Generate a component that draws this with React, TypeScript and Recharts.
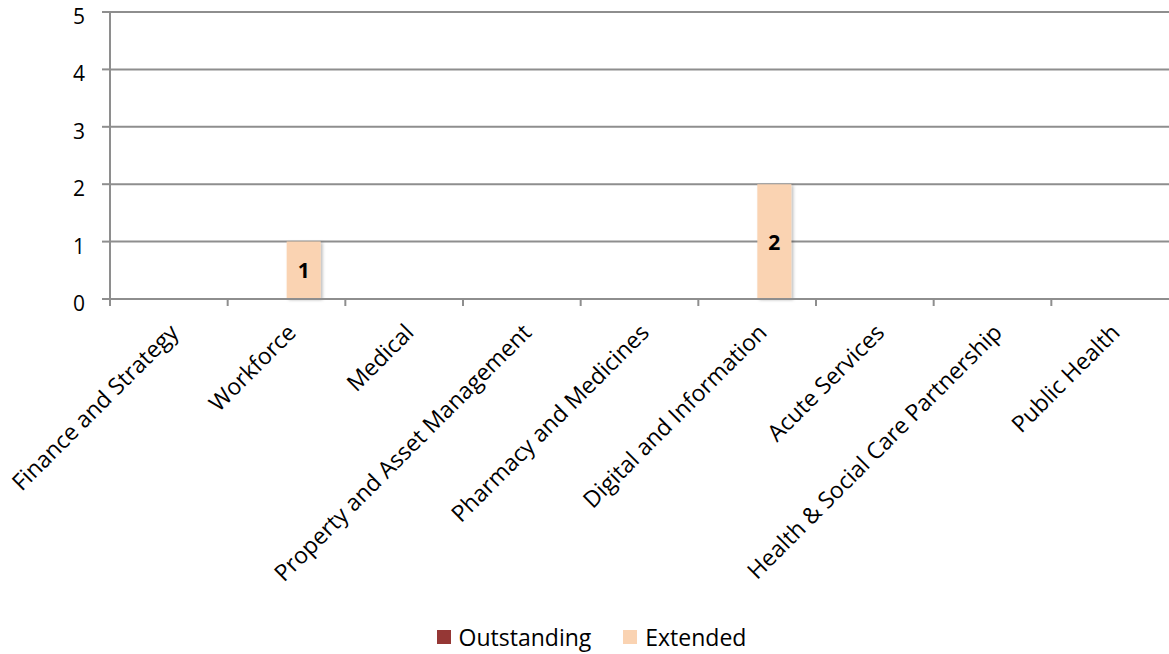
import React from 'react';
import { BarChart, Bar, XAxis, YAxis, CartesianGrid, Legend, LabelList } from 'recharts';

const categories = [
  'Finance and Strategy',
  'Workforce',
  'Medical',
  'Property and Asset Management',
  'Pharmacy and Medicines',
  'Digital and Information',
  'Acute Services',
  'Health & Social Care Partnership',
  'Public Health',
];
const outstanding = [0, 0, 0, 0, 0, 0, 0, 0, 0];
const extended = [0, 1, 0, 0, 0, 2, 0, 0, 0];
const yTicks = [0, 1, 2, 3, 4, 5];
const seriesNames = ['Outstanding', 'Extended'];
const seriesColors = ['#953735', '#fad3b2'];

const W = 1169;
const H = 654;
const LEFT = 110;
const STEP = (W - LEFT) / categories.length;
const FONT = '"Open Sans", sans-serif';
const GRID = '#8e8e8e';

const data = categories.map((name, i) => ({
  name,
  outstanding: outstanding[i],
  extended: extended[i],
}));

const CategoryTick: React.FC<any> = ({ x, y, payload }) => (
  <g>
    <line x1={x - STEP / 2} y1={y} x2={x - STEP / 2} y2={y + 7} stroke={GRID} strokeWidth={2} />
    <text
      x={x + 11}
      y={y + 35}
      textAnchor="end"
      transform={`rotate(-45, ${x + 11}, ${y + 35})`}
      fontSize={23}
      fontFamily={FONT}
      fill="#000"
    >
      {payload.value}
    </text>
  </g>
);

const ValueTick: React.FC<any> = ({ x, y, payload }) => (
  <text x={x} y={y + 12} textAnchor="end" fontSize={21} fontFamily={FONT} fill="#000">
    {payload.value}
  </text>
);

const ValueLabel: React.FC<any> = ({ x, y, width, height, value }) => {
  if (!value) return null;
  return (
    <text
      x={x + width / 2}
      y={y + height / 2 + 8}
      textAnchor="middle"
      fontSize={21}
      fontWeight="bold"
      fontFamily={FONT}
      fill="#000"
    >
      {value}
    </text>
  );
};

const LegendContent: React.FC<any> = () => (
  <div
    style={{
      display: 'flex',
      justifyContent: 'center',
      alignItems: 'center',
      height: 30,
      paddingLeft: 14,
      fontFamily: FONT,
      fontSize: 23,
      color: '#000',
    }}
  >
    {seriesNames.map((n, i) => (
      <div key={n} style={{ display: 'flex', alignItems: 'center', marginRight: i === 0 ? 32 : 0 }}>
        <span style={{ display: 'inline-block', width: 14, height: 14, background: seriesColors[i], marginRight: 8 }} />
        <span>{n}</span>
      </div>
    ))}
  </div>
);

export default function App() {
  return (
    <div style={{ position: 'absolute', left: 0, top: 0, width: W, height: H, background: '#fff' }}>
      <BarChart
        width={W}
        height={H}
        data={data}
        margin={{ top: 12, right: 0, left: 0, bottom: 2 }}
        barGap={0}
      >
        <defs>
          <filter id="barShadow" x="-20%" y="-20%" width="150%" height="140%">
            <feDropShadow dx="2" dy="1" stdDeviation="1.5" floodColor="#000" floodOpacity="0.25" />
          </filter>
        </defs>
        <CartesianGrid vertical={false} stroke={GRID} strokeWidth={2} />
        <XAxis
          dataKey="name"
          interval={0}
          height={323}
          axisLine={{ stroke: GRID, strokeWidth: 2 }}
          tickLine={false}
          tickSize={0}
          tickMargin={0}
          tick={<CategoryTick />}
        />
        <YAxis
          width={LEFT}
          domain={[0, 5]}
          ticks={yTicks}
          interval={0}
          axisLine={{ stroke: GRID, strokeWidth: 2 }}
          tickLine={{ stroke: GRID, strokeWidth: 2 }}
          tickSize={8}
          tickMargin={17}
          tick={<ValueTick />}
        />
        <Legend verticalAlign="bottom" align="center" height={30} content={<LegendContent />} />
        <Bar dataKey="outstanding" name={seriesNames[0]} fill={seriesColors[0]} barSize={34} isAnimationActive={false} />
        <Bar
          dataKey="extended"
          name={seriesNames[1]}
          fill={seriesColors[1]}
          barSize={34}
          filter="url(#barShadow)"
          isAnimationActive={false}
        >
          <LabelList dataKey="extended" content={<ValueLabel />} />
        </Bar>
      </BarChart>
    </div>
  );
}
